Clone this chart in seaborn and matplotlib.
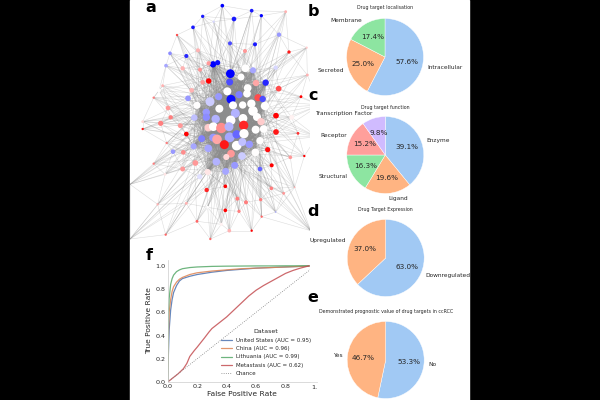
import numpy as np
import pandas as pd
import matplotlib
matplotlib.use("Agg")
import matplotlib.pyplot as plt
from matplotlib.patches import Rectangle
import seaborn as sns

# network nodes: x, y, change (-1 blue .. 1 red), size
node_x = [307,395,424,248,342,219,497,281,477,330,405,171,150,199,234,375,507,560,279,293,266,138,188,240,331,376,399,467,562,266,248,329,363,408,437,128,117,215,322,383,381,476,543,101,204,296,357,414,428,270,333,231,339,368,394,435,144,259,298,399,346,468,515,152,223,259,287,369,411,68,122,332,423,68,181,265,280,304,327,371,407,431,199,468,534,590,245,280,329,350,372,291,140,420,221,265,313,350,367,388,443,159,190,333,406,366,319,511,553,226,289,101,344,455,188,317,420,263,135,239,260,316,454,524,491,352,378,422,199,113,263,316,357,467,425,231,304,328,395,137,271,30,30,600,572]
node_y = [17,32,47,49,57,82,35,65,104,130,133,105,160,168,151,153,156,143,193,188,190,197,205,209,221,205,211,203,225,243,247,246,231,249,248,257,271,271,274,264,281,266,290,293,295,290,284,293,297,305,298,316,316,315,311,318,324,337,326,333,340,347,352,352,353,352,357,355,351,365,370,361,365,387,377,383,380,384,380,376,389,387,402,396,400,410,416,413,412,403,401,418,429,422,439,445,434,437,426,433,449,455,457,461,457,468,471,472,468,489,485,491,496,496,507,514,507,516,523,530,570,559,565,562,580,596,607,599,610,613,622,631,634,636,650,664,673,692,692,704,717,553,717,315,692]
node_change = [-1,-.9,-1,-.9,-.9,-.9,.3,-.15,-.4,-.7,-.9,.7,-.45,-.85,.3,.4,.9,.2,-1,-.95,.4,-.35,.3,.4,-1,0,-.35,-.15,.3,1,.4,-.7,0,.35,-.85,.3,0,.3,0,0,0,.7,1,.5,-.4,-.4,-.5,.7,-.7,-.2,-.95,0,0,0,0,0,.4,-.4,0,0,-.3,1,.05,.5,-.25,-.45,-.3,0,0,.15,.5,0,.2,.9,.4,.2,0,.45,-.3,.85,0,0,1,.9,.8,.3,-.5,-.4,-.35,-.6,0,.35,.5,0,-.35,-.35,.9,0,-.25,-.4,.95,-.4,.45,.4,0,-.2,.15,.4,1,.4,-.3,.5,-.4,1,.4,-.35,-.6,.1,.1,-.12,.85,1,.5,.3,.4,.5,.5,.5,.3,.3,0,1,.5,-.3,.6,.6,.05,.3,1,.6,.6,0,0,0,0]
node_size = [5,5,4,4,8,5,3,2,7,6,6,2,5,6,6,6,4,2,15,10,7,5,7,6,28,22,14,7,3,11,8,18,18,15,15,3,6,8,24,22,22,12,3,2,12,19,19,19,15,30,30,19,24,20,26,26,8,20,24,34,30,12,9,7,16,20,26,28,24,3,10,34,20,2,9,22,28,40,30,32,24,22,8,12,3,2,18,24,36,26,32,34,2,20,14,22,30,34,24,20,10,8,8,22,22,22,14,5,2,12,22,2,18,6,9,18,8,14,3,10,7,5,5,1,3,6,6,4,3,2,3,5,4,1,2,3,4,5,2,2,2,0,0,0,0]

# ROC curves
fpr = [0,.005,.01,.02,.03,.04,.06,.08,.1,.15,.2,.3,.4,.5,.6,.7,.8,.9,1]
tpr_us = [0,.25,.45,.62,.71,.77,.83,.87,.89,.91,.925,.945,.96,.97,.98,.985,.99,.995,1]
tpr_china = [0,.4,.6,.71,.78,.82,.86,.885,.90,.925,.94,.955,.965,.975,.98,.985,.99,.995,1]
tpr_lith = [0,.6,.72,.84,.89,.92,.95,.965,.975,.985,.99,.995,.997,.998,.999,.999,1,1,1]
fpr_met = [0,.03,.07,.107,.13,.15,.18,.2,.25,.28,.3,.35,.4,.45,.5,.55,.6,.65,.7,.75,.8,.85,.9,.96,1]
tpr_met = [0,.03,.07,.115,.16,.22,.27,.30,.38,.43,.46,.51,.56,.62,.68,.74,.79,.83,.865,.90,.935,.96,.98,1,1]
roc_labels = ["United States (AUC = 0.95)", "China (AUC = 0.96)", "Lithuania (AUC = 0.99)", "Metastasis (AUC = 0.62)"]

# pies
loc_labels = ["Intracellular", "Secreted", "Membrane"]
loc_values = [57.6, 25.0, 17.4]
func_labels = ["Enzyme", "Ligand", "Structural", "Receptor", "Transcription Factor"]
func_values = [39.1, 19.6, 16.3, 15.2, 9.8]
expr_labels = ["Downregulated", "Upregulated"]
expr_values = [63.0, 37.0]
prog_labels = ["No", "Yes"]
prog_values = [53.3, 46.7]

W, H = 600, 400
sns.set_theme(style="white")
plt.rcParams["font.family"] = "DejaVu Sans"
pastel = sns.color_palette("pastel")
fig = plt.figure(figsize=(6, 4), dpi=100, facecolor="black")
fig.add_artist(Rectangle((130 / W, 0), 339 / W, 1, transform=fig.transFigure, color="white", zorder=-1))


def px_axes(left, top, width, height):
    return fig.add_axes([left / W, 1 - (top + height) / H, width / W, height / H])


# a: network, axes span the zoomed pixel range used for the node table
ax = px_axes(130, 0, 180, 245)
nodes = pd.DataFrame({"x": node_x, "y": node_y, "change": node_change, "size": node_size})
xy = nodes[["x", "y"]].to_numpy(dtype=float)
dist = np.hypot(*(xy[:, None] - xy[None, :]).transpose(2, 0, 1))
hubs = nodes.index[nodes["size"] >= 14].to_numpy()
# edges are too many to read one by one, so they follow from the node table
edges = set()
for i, h in enumerate(hubs):
    for j in hubs[i + 1:]:
        edges.add((int(h), int(j)))
for n in nodes.index:
    for m in np.argsort(dist[n])[1:5]:
        edges.add(tuple(sorted((n, int(m)))))
    for m in hubs[n % 11::11]:
        if m != n:
            edges.add(tuple(sorted((n, int(m)))))
for a, b in edges:
    ax.plot([node_x[a], node_x[b]], [node_y[a], node_y[b]], color="#8c8c8c", lw=0.4, alpha=0.3, zorder=1)
sns.scatterplot(data=nodes, x="x", y="y", hue="change", hue_norm=(-1, 1), palette="bwr", size="size",
                size_norm=(0, 40), sizes=(0, 56), edgecolor="none", legend=False, zorder=2, ax=ax)
ax.set_xlim(30, 570)
ax.set_ylim(735, 0)
ax.axis("off")


# f: ROC
ax = px_axes(167.7, 260, 149, 122)
deep = sns.color_palette("deep")
for tpr, x, label, color in zip([tpr_us, tpr_china, tpr_lith, tpr_met], [fpr, fpr, fpr, fpr_met], roc_labels, deep):
    sns.lineplot(x=x, y=tpr, label=label, color=color, lw=0.9, alpha=0.85, ax=ax)
ax.plot([0, 1], [0, 1], color="gray", lw=0.6, ls=":", label="Chance")
ax.set_xlim(0, 1.011)
ax.set_ylim(0, 1.05)
ax.set_xticks([0, .2, .4, .6, .8])
ax.set_yticks([0, .2, .4, .6, .8, 1])
ax.tick_params(labelsize=4.6, length=0, pad=1.5)
ax.set_xlabel("False Positive Rate", fontsize=5.4, labelpad=1.2)
ax.set_ylabel("True Positive Rate", fontsize=5.4, labelpad=2.5)
sns.despine(ax=ax)
for s in ["left", "bottom"]:
    ax.spines[s].set_linewidth(0.5)
    ax.spines[s].set_color("#cccccc")
# the source panel is cropped just before x = 1
ax.add_patch(Rectangle((0.964, 0.006), 0.05, 1.05, color="white", zorder=4, clip_on=False))
leg = ax.legend(title="Dataset", fontsize=3.95, title_fontsize=4.5, frameon=False, loc="lower right",
                bbox_to_anchor=(0.985, 0.02), labelspacing=0.62, handlelength=2, handletextpad=0.8, borderpad=0.1)
leg.set_zorder(5)
fig.text(314.5 / W, 1 - 387.7 / H, "1.", fontsize=4.6, color="#262626", ha="center", va="center")


# b-e: pies
def draw_pie(cx, cy, values, labels, title, title_y, title_x=None):
    ax = px_axes(cx - 60, cy - 60, 120, 120)
    _, _, pcts = ax.pie(values, labels=labels, colors=pastel, autopct="%.1f%%", startangle=90, counterclock=False,
                        radius=38.5 / 60, textprops={"fontsize": 4.2, "color": "#262626"}, labeldistance=1.12,
                        pctdistance=0.6, wedgeprops={"linewidth": 0.3, "edgecolor": "white"})
    for p in pcts:
        p.set_fontsize(5.2)
    ax.set_xlim(-1, 1)
    ax.set_ylim(-1, 1)
    fig.text((title_x or cx) / W, 1 - title_y / H, title, fontsize=3.45, ha="center", va="center", color="#262626")


draw_pie(385, 57, loc_values, loc_labels, "Drug target localisation", 7.7)
draw_pie(385.3, 155, func_values, func_labels, "Drug target function", 108)
draw_pie(385.7, 258, expr_values, expr_labels, "Drug Target Expression", 210)
draw_pie(385.7, 360, prog_values, prog_labels, "Demonstrated prognostic value of drug targets in ccRCC", 311.7, 386)

for letter, x, y in [("a", 151, 8), ("f", 149, 256), ("b", 313, 11), ("c", 313, 96), ("d", 313, 211), ("e", 313, 297)]:
    fig.text(x / W, 1 - y / H, letter, fontsize=11.5, fontweight="heavy", ha="center", va="center", color="black")

fig.savefig("out.png", dpi=100, facecolor="black")
